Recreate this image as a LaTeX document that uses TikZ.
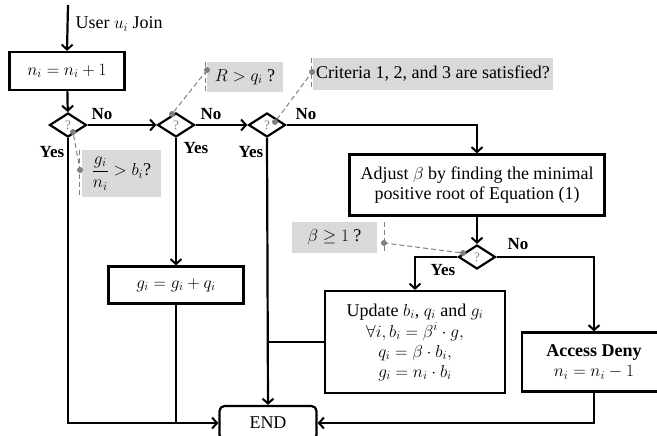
\documentclass[tikz,border=0pt]{standalone}
\usepackage{amsmath}
\usepackage{fontspec}
\setmainfont{Liberation Serif}
\usepackage{tikz}
\usetikzlibrary{arrows.meta, positioning}
\usetikzlibrary{shapes.geometric}

\newcommand{\mth}[1]{{\fontsize{17}{19}\selectfont$#1$}}

\begin{document}
\begin{tikzpicture}[x=1pt, y=-1pt, font=\fontsize{18}{20}\selectfont,
  flow/.style={line width=2.2pt, -{Straight Barb[length=5pt,width=11pt,line width=2pt]}},
  wire/.style={line width=2.2pt},
  box/.style={draw, line width=2.2pt, align=center, inner sep=2pt},
  test/.style={draw, diamond, line width=2.2pt, minimum width=37pt, minimum height=24pt, inner sep=0pt,
    font=\fontsize{13}{13}\selectfont\color{gray}},
  note/.style={fill=gray!30, align=left, inner sep=2pt},
  lead/.style={gray, dashed, line width=1pt, dash pattern=on 5pt off 3pt},
  dot/.style={circle, fill=gray, inner sep=0pt, minimum size=6pt},
  lbl/.style={font=\fontsize{17}{19}\selectfont\bfseries}]
  \clip (0,0) rectangle (657,436);

  \coordinate (start) at (68,5);
  \node[anchor=west] (join) at (72,24) {User \mth{u_i} Join};
  \node[box, minimum width=115pt, minimum height=38pt] (inc) at (67,71) {\mth{n_i = n_i + 1}};

  \node[test] (d1) at (68,125) {?};
  \node[test] (d2) at (176,125) {?};
  \node[test] (d3) at (267,125) {?};
  \node[test] (d4) at (477,257) {?};

  \node[box, minimum width=255pt, minimum height=61pt] (adj) at (477,185)
    {Adjust \mth{\beta} by finding the minimal\\positive root of Equation (1)};
  \node[box, minimum width=135pt, minimum height=37pt] (gup) at (176,285) {\mth{g_i = g_i + q_i}};
  \node[box, minimum width=180pt, minimum height=102pt] (upd) at (415,342)
    {Update \mth{b_i}, \mth{q_i} and \mth{g_i}\\[1pt]\mth{\forall i, b_i = \beta^i \cdot g,}\\
     \mth{q_i = \beta \cdot b_i,}\\\mth{g_i = n_i \cdot b_i}};
  \node[box, minimum width=144pt, minimum height=59pt] (deny) at (594,362)
    {\textbf{Access Deny}\\\mth{n_i = n_i - 1}};
  \node[box, rounded corners=5pt, minimum width=97pt, minimum height=34pt] (end) at (268,423) {END};

  % notes
  \node[note, minimum width=79pt, minimum height=47pt] (c1) at (121.5,173.5) {\mth{\dfrac{g_i}{n_i} > b_i}?};
  \node[note, minimum width=76pt, minimum height=30pt] (c2) at (245,77) {\mth{R > q_i} ?};
  \node[note, minimum width=240pt, minimum height=32pt] (c3) at (433,74) {Criteria 1, 2, and 3 are satisfied?};
  \node[note, minimum width=85pt, minimum height=31pt] (c4) at (334.5,237.5) {\mth{\beta \geq 1} ?};

  \node[dot] (p1) at (73,132) {};  \node[dot] (q1) at (80,170) {};
  \node[dot] (p2) at (172,114) {}; \node[dot] (q2) at (207,70) {};
  \node[dot] (p3) at (275,122) {}; \node[dot] (q3) at (312,72) {};
  \node[dot] (p4) at (463,253) {}; \node[dot] (q4) at (384,243) {};
  \draw[lead] (p1) -- (q1);
  \draw[lead] (p2) -- (q2);
  \draw[lead] (p3) -- (q3);
  \draw[lead] (p4) -- (q4);
  \draw[lead] (c1.north west) ++(-2,0) -- ++(0,47);
  \draw[lead] (c2.north west) ++(-1,0) -- ++(0,30);
  \draw[lead] (c3.north west) ++(-1,0) -- ++(0,32);
  \draw[lead] (c4.north east) ++(7,0) -- ++(0,31);

  % flow
  \draw[flow] (start) -- (inc.north);
  \draw[flow] (inc) -- (d1);
  \draw[flow] (d1.east) -- (d2.west);
  \draw[flow] (d2.east) -- (d3.west);
  \draw[flow] (d3.east) -| (adj.north);
  \draw[flow] (d1.south) |- (end.west);
  \draw[flow] (d2.south) -- (gup.north);
  \draw[wire] (gup.south) -- (gup.south |- end.west);
  \draw[flow] (d3.south) -- (end.north);
  \draw[wire] (upd.west) -- (upd.west -| d3.south);
  \draw[flow] (adj.south) -- (d4.north);
  \draw[flow] (d4.east) -| (deny.north);
  \draw[flow] (d4.west) -| (upd.north);
  \draw[flow] (deny.south) |- (end.east);

  \node[lbl] (no1) at (102,114) {No};
  \node[lbl] (no2) at (211,114) {No};
  \node[lbl] (no3) at (306,114) {No};
  \node[lbl] (no4) at (518,244) {No};
  \node[lbl] (yes1) at (52,152) {Yes};
  \node[lbl] (yes2) at (196,148) {Yes};
  \node[lbl] (yes3) at (251,152) {Yes};
  \node[lbl] (yes4) at (443,270) {Yes};
\end{tikzpicture}
\end{document}
